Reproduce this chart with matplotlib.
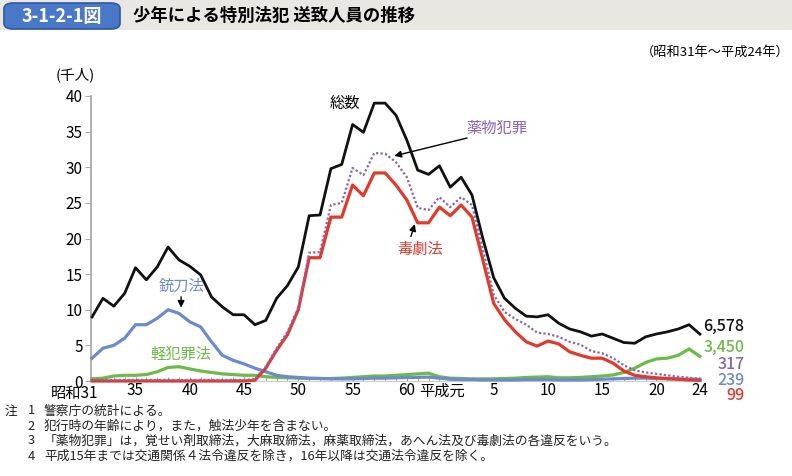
import numpy as np
import matplotlib.pyplot as plt
from matplotlib.patches import FancyBboxPatch, Rectangle
from matplotlib.ticker import FixedLocator, MultipleLocator

plt.rcParams['font.family'] = ['Noto Sans CJK JP', 'DejaVu Sans']

# years: 昭和31 (1956) .. 平成24 (2012)
n_years = 57
tick_idx = [0, 4, 9, 14, 19, 24, 29, 37, 42, 47, 52, 56]
tick_lbl = ['', '35', '40', '45', '50', '55', '60', '5', '10', '15', '20', '24']

# 総数 (thousand persons)
total = [9.0, 11.6, 10.5, 12.3, 15.9, 14.2, 16.0, 18.8, 17.0, 16.1,
         14.9, 11.8, 10.4, 9.3, 9.3, 7.9, 8.5, 11.6, 13.4, 16.0,
         23.2, 23.3, 29.8, 30.4, 36.0, 34.9, 39.0, 39.0, 37.3, 33.8,
         29.6, 29.0, 30.2, 27.2, 28.6, 26.1, 20.0, 14.5, 11.6, 10.2,
         9.1, 9.0, 9.3, 8.1, 7.3, 6.9, 6.3, 6.6, 6.0, 5.4,
         5.3, 6.2, 6.6, 6.9, 7.3, 7.9, 6.578]
# 薬物犯罪
drug = [0.15] * 15 + [0.3, 2.0, 4.6, 6.9, 10.3,
        18.0, 18.1, 24.7, 25.0, 29.9, 28.9, 32.0, 31.9, 30.7, 28.6,
        24.3, 24.0, 25.8, 24.4, 25.8, 24.7, 18.5, 12.1, 9.7, 8.7,
        7.9, 6.8, 6.6, 6.2, 5.5, 5.1, 4.2, 3.9, 3.2, 2.2,
        1.5, 1.2, 1.0, 0.8, 0.6, 0.45, 0.317]
# 毒劇法
toxic = [0.0] * 15 + [0.1, 1.8, 4.3, 6.5, 10.0,
         17.3, 17.3, 23.0, 23.0, 27.5, 26.0, 29.2, 29.2, 27.5, 25.4,
         22.2, 22.2, 24.4, 23.2, 24.7, 23.0, 17.0, 10.9, 8.6, 6.9,
         5.5, 4.9, 5.6, 5.2, 4.1, 3.6, 3.2, 3.2, 2.5, 1.4,
         0.8, 0.6, 0.45, 0.35, 0.25, 0.15, 0.099]
# 銃刀法
sword = [3.2, 4.6, 5.0, 6.0, 7.9, 7.9, 8.8, 10.0, 9.5, 8.3,
         7.6, 5.5, 3.6, 2.9, 2.4, 1.8, 1.3, 0.8, 0.6, 0.5,
         0.4, 0.35, 0.3, 0.3, 0.3, 0.35, 0.4, 0.4, 0.45, 0.5,
         0.5, 0.55, 0.4, 0.25, 0.2, 0.2, 0.15, 0.15, 0.15, 0.15,
         0.2, 0.2, 0.2, 0.15, 0.15, 0.15, 0.2, 0.25, 0.3, 0.35,
         0.4, 0.4, 0.35, 0.3, 0.28, 0.25, 0.239]
# 軽犯罪法
minor = [0.3, 0.4, 0.7, 0.8, 0.8, 0.9, 1.3, 1.9, 2.0, 1.7,
         1.4, 1.2, 1.0, 0.9, 0.8, 0.8, 0.6, 0.5, 0.45, 0.4,
         0.35, 0.35, 0.35, 0.4, 0.5, 0.6, 0.7, 0.7, 0.8, 0.9,
         1.0, 1.1, 0.6, 0.4, 0.35, 0.3, 0.3, 0.3, 0.35, 0.4,
         0.5, 0.55, 0.6, 0.45, 0.45, 0.5, 0.6, 0.7, 0.85, 1.2,
         1.8, 2.6, 3.1, 3.2, 3.6, 4.5, 3.45]

end_labels = ['6,578', '3,450', '317', '239', '99']

c_total = '#111111'
c_drug = '#8a63b5'
c_toxic = '#e2392b'
c_sword = '#6c8ad0'
c_minor = '#6cbb48'

x = np.arange(n_years)

fig = plt.figure(figsize=(7.92, 4.76), dpi=100)

# title bar
fig.patches.append(Rectangle((0, 1 - 30 / 476), 1, 30 / 476, transform=fig.transFigure,
                             facecolor='#e8e7e2', edgecolor='none', zorder=0))
fig.patches.append(FancyBboxPatch((4 / 792, 1 - 29 / 476), 116 / 792, 26 / 476,
                                  boxstyle='round,pad=0,rounding_size=0.012',
                                  transform=fig.transFigure, facecolor='#4a78c8',
                                  edgecolor='#2f57a3', linewidth=1.2, zorder=1))
fig.text(62 / 792, 1 - 16 / 476, '3-1-2-1図', color='white', fontsize=13,
         fontweight='bold', ha='center', va='center')
fig.text(133 / 792, 1 - 16 / 476, '少年による特別法犯 送致人員の推移', fontsize=12.5,
         fontweight='bold', ha='left', va='center')
fig.text(790 / 792, 1 - 52 / 476, '（昭和31年～平成24年）', fontsize=9.5,
         ha='right', va='center')
fig.text(75 / 792, 1 - 75 / 476, '(千人)', fontsize=10.5, ha='center', va='center')

ax = fig.add_axes([91 / 792, 95 / 476, 610 / 792, 285 / 476])

ax.plot(x, minor, color=c_minor, lw=2.3, clip_on=False, zorder=3)
ax.plot(x, sword, color=c_sword, lw=2.3, clip_on=False, zorder=3)
ax.plot(x, toxic, color=c_toxic, lw=2.3, clip_on=False, zorder=4)
ax.plot(x, drug, color=c_drug, lw=1.6, ls=(0, (1.0, 1.0)), clip_on=False, zorder=5)
ax.plot(x, total, color=c_total, lw=2.0, clip_on=False, zorder=6)

ax.set_xlim(-0.1, 56.1)
ax.set_ylim(0, 40)

for s in ['top', 'right']:
    ax.spines[s].set_visible(False)
ax.spines['left'].set_color('#aaaaaa')
ax.spines['left'].set_linewidth(1.3)
ax.spines['bottom'].set_color('#cccccc')
ax.spines['bottom'].set_linewidth(0.8)

ax.yaxis.set_major_locator(MultipleLocator(5))
ax.tick_params(axis='y', direction='out', length=4, color='#aaaaaa', labelsize=11, pad=2)
ax.xaxis.set_major_locator(FixedLocator(tick_idx))
ax.set_xticklabels(tick_lbl)
ax.xaxis.set_minor_locator(MultipleLocator(1))
ax.tick_params(axis='x', which='both', direction='in', length=3, color='#999999',
               labelsize=11, pad=1)

trans = ax.get_xaxis_transform()
ax.annotate('昭和31', xy=(0.55, 0), xycoords=trans, xytext=(0, -3),
            textcoords='offset points', ha='right', va='top', fontsize=11)
ax.annotate('平成元', xy=(32.2, 0), xycoords=trans, xytext=(0, -1),
            textcoords='offset points', ha='center', va='top', fontsize=11)

# series annotations
ax.text(23.3, 38.9, '総数', fontsize=11, ha='center', va='center')
ax.text(37.3, 35.5, '薬物犯罪', fontsize=11, color=c_drug, ha='center', va='center')
ax.annotate('', xy=(27.6, 31.5), xytext=(34.8, 34.2),
            arrowprops=dict(arrowstyle='-|>', color='black', lw=1.0, mutation_scale=10))
ax.text(30.2, 18.5, '毒劇法', fontsize=11, color=c_toxic, ha='center', va='center')
ax.annotate('', xy=(29.8, 22.4), xytext=(29.3, 19.9),
            arrowprops=dict(arrowstyle='-|>', color='black', lw=1.0, mutation_scale=10))
ax.text(8.2, 13.3, '銃刀法', fontsize=11, color=c_sword, ha='center', va='center')
ax.annotate('', xy=(8.2, 9.9), xytext=(8.2, 12.2),
            arrowprops=dict(arrowstyle='-|>', color='black', lw=1.0, mutation_scale=10))
ax.text(8.2, 3.8, '軽犯罪法', fontsize=11, color=c_minor, ha='center', va='center')

# end values
end_y = [7.7, 4.7, 2.35, 0.1, -2.1]
end_c = [c_total, c_minor, c_drug, c_sword, c_toxic]
for lbl, yy, cc in zip(end_labels, end_y, end_c):
    ax.text(60.1, yy, lbl, fontsize=11.5, color=cc, ha='right', va='center',
            fontweight='medium', clip_on=False)

notes = [('注', '1', '警察庁の統計による。'),
         ('', '2', '犯行時の年齢により，また，触法少年を含まない。'),
         ('', '3', '「薬物犯罪」は，覚せい剤取締法，大麻取締法，麻薬取締法，あへん法及び毒劇法の各違反をいう。'),
         ('', '4', '平成15年までは交通関係４法令違反を除き，16年以降は交通法令違反を除く。')]
for k, (a, b, t) in enumerate(notes):
    yy = 1 - (411 + k * 15) / 476
    if a:
        fig.text(5 / 792, yy, a, fontsize=9.2, va='center', color='#222222')
    fig.text(31 / 792, yy, b, fontsize=9.2, va='center', ha='center', color='#222222')
    fig.text(44 / 792, yy, t, fontsize=9.2, va='center', color='#222222')

fig.savefig('out.png', dpi=100)
